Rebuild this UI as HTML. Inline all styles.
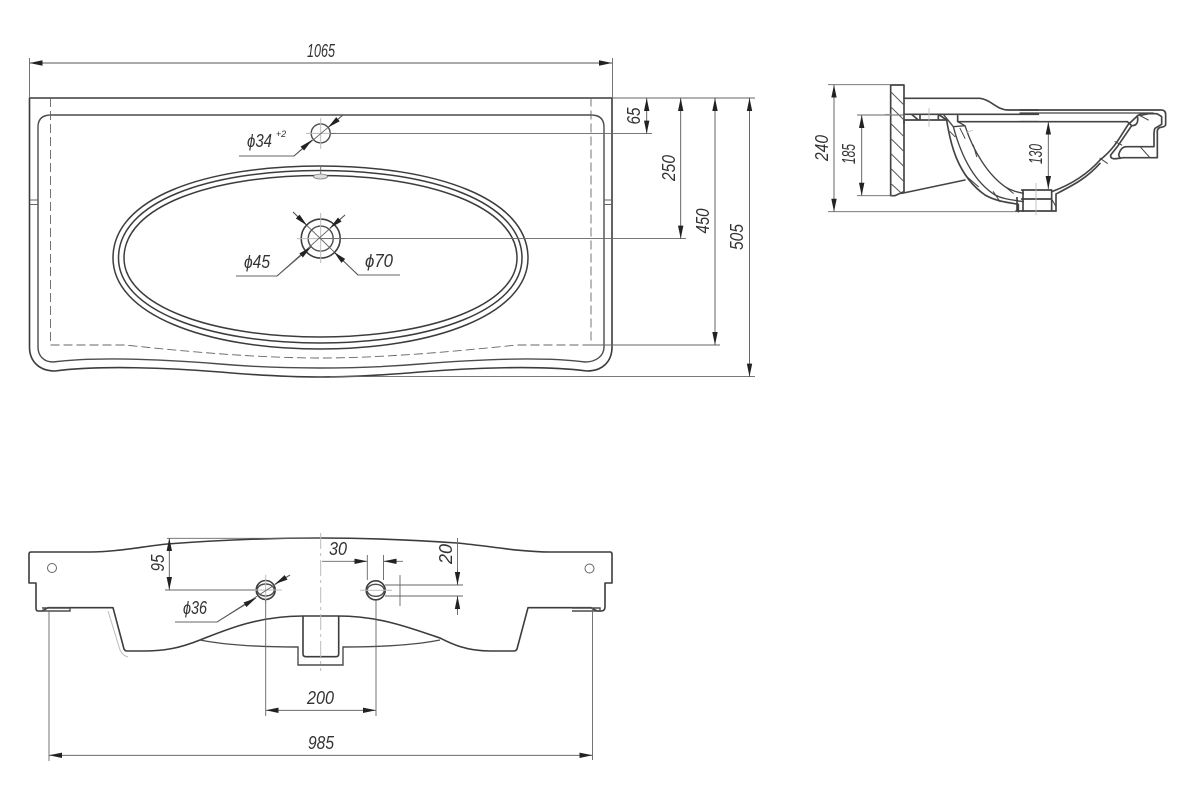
<!DOCTYPE html>
<html><head><meta charset="utf-8"><style>
html,body{margin:0;padding:0;background:#fff}
svg{display:block}
text{font-family:"Liberation Sans",sans-serif;font-style:italic;font-size:18px;fill:#333;text-anchor:middle}
.o{fill:none;stroke:#3c3c3c;stroke-width:1.6;stroke-linejoin:round}
.i{fill:none;stroke:#4c4c4c;stroke-width:1.4}
.d{fill:none;stroke:#666;stroke-width:.9}
.a{fill:none;stroke:#555;stroke-width:.9;marker-start:url(#m);marker-end:url(#m)}
.e{fill:none;stroke:#555;stroke-width:.9;marker-end:url(#m)}
.c{fill:none;stroke:#bbb;stroke-width:1}
</style></head><body>
<svg width="1182" height="800" viewBox="0 0 1182 800" xmlns="http://www.w3.org/2000/svg">
<defs><marker id="m" markerUnits="userSpaceOnUse" markerWidth="13" markerHeight="6" refX="13" refY="3" orient="auto-start-reverse"><path d="M0,.3L13,3L0,5.700Z" fill="#222"/></marker></defs>
<rect width="1182" height="800" fill="#fff"/>

<!-- TOP VIEW -->
<path class="o" d="M29.500,98H612V347C612,362 602,371 587,371C540,365 470,368 420,372C385,375 350,377 320,377C290,377 255,375 220,372C170,368 100,365 55,371C40,371 29.500,362 29.500,347Z"/>
<path class="i" d="M38,127Q38,115 51,115H591Q604,115 604,127V347C604,356 596,362 585,362C540,356 470,360 420,364C385,367 350,368 320,368C290,368 255,367 220,364C170,360 100,356 53,362C44,362 38,356 38,347Z"/>
<path class="d" d="M30,200H38M30,204.500H38M604,200H612M604,204.500H612"/>
<path class="d" stroke-dasharray="9 4" d="M50.500,98V345H125C190,352 260,358 320,358C380,358 450,352 517,345H591V98"/>
<g class="o" style="stroke-width:1.5">
<path d="M113,258C113,198 205,166 320,166C435,166 528,198 528,258C528,314 435,349 320,349C205,349 113,314 113,258Z"/>
<path d="M118.500,258C118.500,202 208,170.500 320,170.500C432,170.500 522,202 522,258C522,310 432,343 320,343C208,343 118.500,310 118.500,258Z"/>
<path d="M124,258C124,206 212,175.500 320,175.500C428,175.500 517,206 517,258C517,306 428,337 320,337C212,337 124,306 124,258Z"/>
</g>
<path class="d" d="M320.700,166V175"/>
<ellipse cx="320.500" cy="176.500" rx="7" ry="2.500" fill="#ddd" stroke="#777" stroke-width=".8"/>
<circle class="i" cx="320.700" cy="133.400" r="9.500"/>
<circle class="o" cx="320.700" cy="238.600" r="19.500"/>
<circle class="i" cx="320.700" cy="238.600" r="12.500"/>
<path class="c" d="M306,133.400H336M320.700,118V149M297,238.600H345M320.700,213V263"/>

<!-- top dims -->
<path class="a" d="M29.500,63H612"/>
<path class="d" d="M29.500,58V98M612.500,58V98M330,133.600H652M320,238.600H686M591,345H720M330,376.600H755M612,98H755"/>
<path class="a" d="M646.700,98V133.600"/>
<path class="a" d="M680.700,98V238.600"/>
<path class="a" d="M715,98V345"/>
<path class="a" d="M749.500,98V376.600"/>
<path class="d" d="M239,156H294L343,115"/>
<path class="e" d="M294,156L312,140"/>
<path class="e" d="M343,115L328,127.500"/>
<path class="d" d="M236,276H277L345,215"/>
<path class="e" d="M277,276L311,247"/>
<path class="e" d="M345,215L330,228"/>
<path class="d" d="M293,212L358,275H400"/>
<path class="e" d="M293,212L307,225.500"/>
<path class="e" d="M358,275L334,252"/>
<text x="321" y="57" textLength="28" lengthAdjust="spacingAndGlyphs">1065</text>
<text transform="translate(640,116) rotate(-90)" textLength="17" lengthAdjust="spacingAndGlyphs">65</text>
<text transform="translate(675,168) rotate(-90)" textLength="26" lengthAdjust="spacingAndGlyphs">250</text>
<text transform="translate(709,221) rotate(-90)" textLength="25" lengthAdjust="spacingAndGlyphs">450</text>
<text transform="translate(743,237) rotate(-90)" textLength="26" lengthAdjust="spacingAndGlyphs">505</text>
<text x="259.500" y="147" textLength="25" lengthAdjust="spacingAndGlyphs">ϕ34</text>
<text x="281" y="137" style="font-size:9px">+2</text>
<text x="257" y="268" textLength="26" lengthAdjust="spacingAndGlyphs">ϕ45</text>
<text x="379" y="267" textLength="28" lengthAdjust="spacingAndGlyphs">ϕ70</text>

<!-- SIDE VIEW left part -->
<g transform="translate(885 85) scale(.33333)" fill="none" stroke="#444" stroke-width="5" stroke-linejoin="round" stroke-linecap="round">
<path d="M17,0H57V320L30,332H17Z"/>
<path stroke-width="3" stroke="#555" d="M17,20L57,60M17,65L57,105M17,115L57,155M17,160L57,200M17,205L57,245M17,250L57,290M17,295L50,325"/>
<path d="M57,40H285C320,45 335,75 370,75H460"/>
<path d="M57,88H460M57,115V108Q57,105 60,105H185M80,88L100,105M105,88V105M160,88V105"/>
<path d="M218,92V110H460"/>
<path d="M160,88L185,105C195,170 215,270 300,330C335,350 370,352 400,358V380"/>
<path stroke-width="4" d="M175,88L205,125C225,200 260,285 330,330C360,345 390,345 415,350"/>
<path stroke-width="4" d="M205,125L240,122C265,200 310,270 360,305C380,318 400,322 415,325M218,110L240,122"/>
<path stroke-width="3" d="M195,140L210,155M225,130L240,160M265,180L275,215M240,270L280,305M325,320L345,350M360,305L385,325"/>
<path d="M50,325L240,285" stroke-width="4.500"/>
<path stroke="#bbb" stroke-width="2.500" d="M132,70V125M245,142L262,136M0,88H17"/>
</g>
<!-- SIDE VIEW right part -->
<g transform="translate(1020 95) scale(.33333)" fill="none" stroke="#444" stroke-width="5" stroke-linejoin="round" stroke-linecap="round">
<path d="M0,45H420Q437,44 437,58V88Q437,95 422,97Q410,100 412,115V188H310L296,190"/>
<path stroke-width="3.500" d="M0,54H400L360,62"/>
<path d="M0,80H322M322,80L335,92Q358,92 352,62L365,56H410Q418,60 425,65V88L405,100Q402,105 402,120V155H320Q302,155 296,180L300,190"/>
<path d="M350,65L325,88C300,125 285,160 240,195C200,240 150,270 95,290"/>
<path d="M335,92L292,155L272,180Q270,195 296,190"/>
<path d="M240,205C200,250 160,270 108,297V348"/>
<path stroke-width="3" d="M285,140L305,150M240,190L262,205M360,155L390,188M360,62L385,75"/>
<path d="M5,285H95V348M5,312H95M-12,348H108"/>
<path stroke-width="3" d="M95,312L108,335"/>
<path stroke="#bbb" stroke-width="2.500" d="M48,265V360"/>
</g>
<path d="M1023,190V211.700" class="o"/>
<path d="M1017,197V211.700" class="o"/>
<path class="a" d="M834,84.700V211.700"/>
<path class="a" d="M861.700,115V195.700"/>
<path class="a" d="M1048.300,121.700V189"/>
<path class="d" d="M828,84.700H890M828,211.700H1017M857,115H905M857,195.700H892"/>
<text transform="translate(828,148) rotate(-90)" textLength="26" lengthAdjust="spacingAndGlyphs">240</text>
<text transform="translate(855,154) rotate(-90)" textLength="20" lengthAdjust="spacingAndGlyphs">185</text>
<text transform="translate(1042,154) rotate(-90)" textLength="20" lengthAdjust="spacingAndGlyphs">130</text>

<!-- FRONT VIEW -->
<path class="o" d="M29,554Q29,552 31,552H90C115,552 140,547 167,544C220,540 270,538 320,538C370,538 415,540 457,543C490,546 520,552 550,552H610Q612,552 612,554V583H605V607Q605,611 601,611H597L591,607.700H528L517,649Q516,651 514,651H490C465,651 450,643 440,638C410,628 380,616 338,616H303C260,616 230,628 200,640C180,648 165,651 143,651H127Q125,651 124,649L113,607.700H48L42,611H38Q36,611 36,608V583H29Z"/>
<path class="o" d="M303,616V654Q303,656.700 306,656.700H336Q338.700,656.700 338.700,654V616"/>
<path class="i" d="M200,640C225,645 260,647 298,647V665H343V647C380,647 415,645 440,640"/>
<path class="i" d="M42,608H70V611H42M572,608H600V611H572"/>
<path d="M108,611L120,650Q123,656 128,657" fill="none" stroke="#bbb" stroke-width="1"/>
<circle cx="52" cy="568" r="4.500" fill="none" stroke="#666" stroke-width="1"/>
<circle cx="589.500" cy="568.500" r="4.500" fill="none" stroke="#666" stroke-width="1"/>
<circle class="o" cx="265.700" cy="590" r="9.500"/>
<ellipse class="i" cx="265.700" cy="590" rx="8.500" ry="6"/>
<circle class="o" cx="375.700" cy="590.300" r="9.500"/>
<ellipse class="i" cx="375.700" cy="590.300" rx="8.500" ry="6"/>
<path class="c" d="M320.700,533V671" stroke-dasharray="16 4 3 4"/>
<path class="c" d="M250,590H282M265.700,575V604M360,590.300H392"/>

<path class="a" d="M169.300,538V590"/>
<path class="d" d="M165,590H255M167,538.300H320"/>
<path class="d" d="M322,561.300H354M396,561.300H403M367.300,555V580M383.500,555V580"/>
<path class="e" d="M353,561.300H367.300"/>
<path class="e" d="M397,561.300H383.500"/>
<path class="d" d="M457.500,538V572M457.500,608V615M385,585H463M385,596H463M400,575V606"/>
<path class="e" d="M457.500,570V585"/>
<path class="e" d="M457.500,610V596"/>
<path class="d" d="M175,622H217L290,575"/>
<path class="e" d="M217,622L256,598"/>
<path class="e" d="M290,575L275,584"/>
<path class="a" d="M265.700,710.300H376"/>
<path class="d" d="M265.700,600V716M376,600V716M49,611V761M592.500,608V760"/>
<path class="a" d="M49,755.300H592.500"/>
<text transform="translate(164,563) rotate(-90)" textLength="17" lengthAdjust="spacingAndGlyphs">95</text>
<text transform="translate(452,554) rotate(-90)" textLength="20" lengthAdjust="spacingAndGlyphs">20</text>
<text x="338" y="555" textLength="18" lengthAdjust="spacingAndGlyphs">30</text>
<text x="195" y="614" textLength="24" lengthAdjust="spacingAndGlyphs">ϕ36</text>
<text x="320.500" y="704" textLength="27" lengthAdjust="spacingAndGlyphs">200</text>
<text x="321" y="749" textLength="26" lengthAdjust="spacingAndGlyphs">985</text>
</svg>
</body></html>
